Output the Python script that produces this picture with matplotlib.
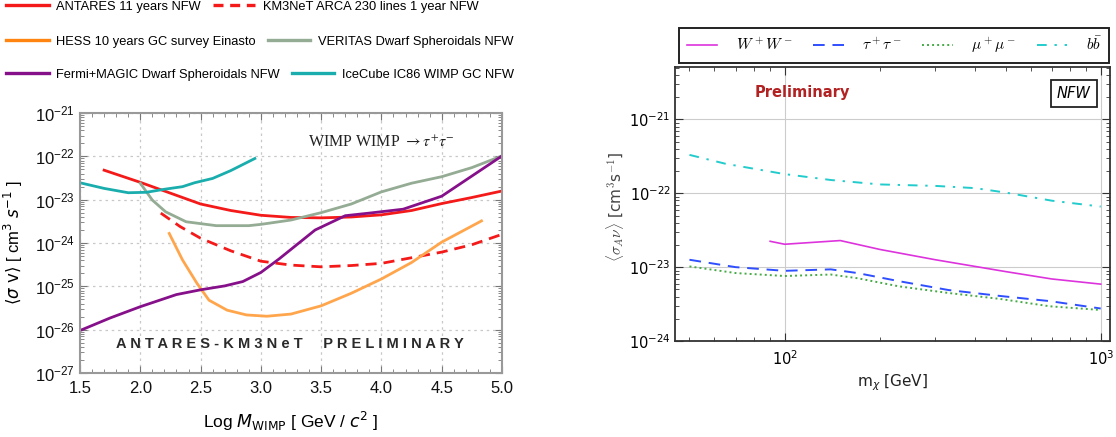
import numpy as np
import matplotlib
matplotlib.use('Agg')
import matplotlib.pyplot as plt
from matplotlib.lines import Line2D
from matplotlib.ticker import MultipleLocator, LogLocator, NullFormatter

plt.rcParams['font.family'] = ['Liberation Sans', 'DejaVu Sans']
plt.rcParams['mathtext.fontset'] = 'dejavusans'

# ---------------- Left panel data: log10(M/GeV), log10(<sigma v>) ----------------
antares_m = [1.7, 2.0, 2.25, 2.5, 2.75, 3.0, 3.25, 3.5, 3.75, 4.0, 4.25, 4.5, 4.75, 5.0]
antares_sv = [-22.32, -22.60, -22.85, -23.10, -23.25, -23.36, -23.41, -23.42, -23.40,
              -23.35, -23.25, -23.09, -22.95, -22.80]

km3net_m = [2.17, 2.33, 2.5, 2.75, 3.0, 3.25, 3.5, 3.75, 4.0, 4.25, 4.5, 4.75, 5.0]
km3net_sv = [-23.31, -23.62, -23.89, -24.18, -24.42, -24.51, -24.55, -24.52, -24.47,
             -24.34, -24.21, -24.04, -23.80]

hess_m = [2.24, 2.35, 2.47, 2.57, 2.72, 2.88, 3.05, 3.25, 3.5, 3.75, 4.0, 4.25, 4.5, 4.83]
hess_sv = [-23.78, -24.39, -24.93, -25.32, -25.55, -25.66, -25.69, -25.64, -25.45,
           -25.16, -24.83, -24.45, -23.98, -23.49]

veritas_m = [2.0, 2.1, 2.21, 2.38, 2.63, 2.9, 3.0, 3.25, 3.5, 3.75, 4.0, 4.25, 4.5, 4.75, 5.0]
veritas_sv = [-22.62, -23.01, -23.28, -23.51, -23.60, -23.60, -23.57, -23.47, -23.30,
              -23.10, -22.82, -22.62, -22.47, -22.26, -21.99]

fermi_m = [1.5, 1.75, 2.0, 2.3, 2.5, 2.7, 2.85, 3.0, 3.15, 3.45, 3.7, 3.9, 4.18, 4.5, 5.0]
fermi_sv = [-26.02, -25.73, -25.47, -25.19, -25.08, -24.99, -24.89, -24.68, -24.37,
            -23.70, -23.37, -23.31, -23.22, -22.92, -21.99]

icecube_m = [1.5, 1.7, 1.9, 2.05, 2.2, 2.35, 2.45, 2.6, 2.75, 2.95]
icecube_sv = [-22.61, -22.74, -22.84, -22.83, -22.76, -22.70, -22.61, -22.51, -22.33, -22.05]

left_labels = ['ANTARES 11 years NFW', 'KM3NeT ARCA 230 lines 1 year NFW',
               'HESS 10 years GC survey Einasto', 'VERITAS Dwarf Spheroidals NFW',
               'Fermi+MAGIC Dwarf Spheroidals NFW', 'IceCube IC86 WIMP GC NFW']

# ---------------- Right panel data: mass [GeV], log10(<sigma_A v>) ----------------
ww_m = [90, 100, 150, 200, 300, 400, 500, 700, 1000]
ww_sv = [-22.65, -22.69, -22.64, -22.76, -22.90, -22.99, -23.06, -23.16, -23.23]

tau_m = [50, 70, 100, 140, 170, 230, 330, 480, 690, 1000]
tau_sv = [-22.90, -23.00, -23.05, -23.03, -23.08, -23.19, -23.31, -23.39, -23.46, -23.56]

mu_m = [50, 70, 100, 140, 170, 230, 330, 480, 690, 1000]
mu_sv = [-22.99, -23.08, -23.12, -23.10, -23.15, -23.26, -23.35, -23.43, -23.53, -23.58]

bb_m = [50, 65, 100, 140, 200, 300, 400, 500, 700, 1000]
bb_sv = [-21.48, -21.60, -21.74, -21.82, -21.88, -21.90, -21.93, -21.99, -22.10, -22.18]

right_labels = [r'$W^+W^-$', r'$\tau^+\tau^-$', r'$\mu^+\mu^-$', r'$b\bar{b}$']

W, H = 1116, 437
fig = plt.figure(figsize=(W / 100, H / 100), dpi=100)

def fr(x0, y0, x1, y1):
    return [x0 / W, 1 - y1 / H, (x1 - x0) / W, (y1 - y0) / H]

# ================= LEFT PANEL =================
axL = fig.add_axes(fr(80, 113, 502, 373))
c_red = '#f41a1a'
c_orange_leg = '#ff8410'
c_orange = '#ffa64d'
c_gray = '#94ab94'
c_purple = '#86108a'
c_teal = '#1aadad'
lw = 2.0
p = lambda v: 10 ** np.asarray(v)
axL.plot(antares_m, p(antares_sv), color=c_red, lw=lw)
axL.plot(km3net_m, p(km3net_sv), color=c_red, lw=lw, ls=(0, (4, 2.5)))
axL.plot(hess_m, p(hess_sv), color=c_orange, lw=lw)
axL.plot(veritas_m, p(veritas_sv), color=c_gray, lw=lw)
axL.plot(fermi_m, p(fermi_sv), color=c_purple, lw=lw)
axL.plot(icecube_m, p(icecube_sv), color=c_teal, lw=lw)

axL.set_yscale('log')
axL.set_xlim(1.5, 5.0)
axL.set_ylim(1e-27, 1e-21)
axL.xaxis.set_major_locator(MultipleLocator(0.5))
axL.xaxis.set_minor_locator(MultipleLocator(0.1))
axL.yaxis.set_major_locator(LogLocator(base=10, numticks=20))
axL.yaxis.set_minor_locator(LogLocator(base=10, subs=np.arange(2, 10), numticks=20))
axL.yaxis.set_minor_formatter(NullFormatter())
axL.xaxis.set_major_formatter(matplotlib.ticker.FormatStrFormatter('%.1f'))
axL.grid(True, which='major', ls=(0, (2, 3)), color='#c8c8c8', lw=0.9)
for s in axL.spines.values():
    s.set_color('#999999')
    s.set_linewidth(1.5)
axL.tick_params(which='both', direction='in', top=True, right=True, color='#777777',
                labelsize=12, labelcolor='#111111')
axL.tick_params(which='major', length=5, width=0.8)
axL.tick_params(which='minor', length=3, width=0.6)
axL.tick_params(axis='x', pad=6)
axL.set_ylabel(r'$\langle\sigma\ \mathrm{v}\rangle$ [ cm$^3$ $s^{-1}$ ]', fontsize=12)
axL.yaxis.set_label_coords(-0.13, 0.5)
axL.set_xlabel(r'Log $M_{\mathrm{WIMP}}$ [ GeV / $c^2$ ]', fontsize=12.5)
axL.xaxis.set_label_coords(0.5, -0.142)

axL.text(4.0, 10 ** -21.69, r'WIMP WIMP $\rightarrow \tau^{+}\tau^{-}$', ha='center', va='center',
         fontsize=11.5, family='Liberation Serif', math_fontfamily='stix', color='#222222')
prelim_words = ['ANTARES-KM3NeT', 'PRELIMINARY']
spaced = '     '.join(' '.join(w) for w in prelim_words)
axL.text(3.24, 10 ** -26.33, spaced, ha='center', va='center', fontsize=10.5,
         fontweight='bold', color='#2a2a2a')

left_colors = [c_red, c_red, c_orange_leg, c_gray, c_purple, c_teal]
left_styles = ['-', (0, (3, 2)), '-', '-', '-', '-']
handles = [Line2D([], [], color=c, ls=s, lw=2.4) for c, s in zip(left_colors, left_styles)]
row_y = [6.7, 41.7, 75]
for r in range(3):
    fig.legend(handles[2 * r:2 * r + 2], left_labels[2 * r:2 * r + 2], ncol=2,
               loc='center left', bbox_to_anchor=(6 / W, 1 - row_y[r] / H),
               frameon=False, fontsize=9.3, handlelength=3.3, handletextpad=0.6,
               columnspacing=0.9, borderpad=0, borderaxespad=0)

# ================= RIGHT PANEL =================
axR = fig.add_axes(fr(675, 67, 1110, 341))
axR.plot(ww_m, p(ww_sv), color='#dd33dd', lw=1.2, ls='-')
axR.plot(tau_m, p(tau_sv), color='#2f4fff', lw=1.4, ls=(0, (6, 4)))
axR.plot(mu_m, p(mu_sv), color='#44aa44', lw=1.4, ls=(0, (1, 1.6)))
axR.plot(bb_m, p(bb_sv), color='#22cccc', lw=1.4, ls=(0, (5, 4, 1.2, 4)))
axR.set_xscale('log')
axR.set_yscale('log')
axR.set_xlim(45, 1070)
axR.set_ylim(1e-24, 10 ** -20.29)
axR.xaxis.set_minor_formatter(NullFormatter())
axR.yaxis.set_minor_formatter(NullFormatter())
axR.yaxis.set_major_locator(LogLocator(base=10, numticks=20))
axR.yaxis.set_minor_locator(LogLocator(base=10, subs=np.arange(2, 10), numticks=20))
axR.grid(True, which='major', color='#cccccc', lw=0.8)
for s in axR.spines.values():
    s.set_color('#333333')
    s.set_linewidth(1.3)
axR.tick_params(which='both', direction='in', top=True, right=True, color='#333333')
axR.tick_params(which='major', length=6, width=0.8, labelsize=10.5)
axR.tick_params(which='minor', length=3, width=0.6)
axR.tick_params(axis='y', pad=3)
axR.tick_params(axis='x', pad=6)
for t in axR.get_xticklabels() + axR.get_yticklabels():
    t.set_family('DejaVu Sans')
axR.set_ylabel(r'$\langle\sigma_A\nu\rangle$ [cm$^3$s$^{-1}$]', fontsize=11, color='#444444',
               family='DejaVu Sans')
axR.yaxis.label.set_math_fontfamily('cm')
axR.yaxis.set_label_coords(-0.112, 0.49)
axR.set_xlabel(r'm$_\chi$ [GeV]', fontsize=11, family='DejaVu Sans', color='#222222')
axR.xaxis.set_label_coords(0.5, -0.115)

axR.text(114, 10 ** -20.63, 'Preliminary', ha='center', va='center', fontsize=10.5,
         fontweight='bold', color='#b22222', family='DejaVu Sans')
axR.text(0.917, 0.903, 'NFW', transform=axR.transAxes, ha='center', va='center',
         fontsize=10.5, style='italic', family='DejaVu Sans',
         bbox=dict(boxstyle='square,pad=0.4', fc='white', ec='#222222', lw=1.3))

legR = axR.legend(right_labels, loc='lower left', ncol=4, mode='expand',
                  bbox_to_anchor=(679 / W, 1 - 63 / H, 430 / W, 35 / H),
                  bbox_transform=fig.transFigure, fancybox=False, framealpha=1,
                  edgecolor='#222222', fontsize=11, handlelength=2.0, handletextpad=1.2,
                  borderaxespad=0, borderpad=0.5)
legR.get_frame().set_linewidth(1.4)
for t in legR.get_texts():
    t.set_math_fontfamily('cm')

fig.savefig('out.png', dpi=100)
